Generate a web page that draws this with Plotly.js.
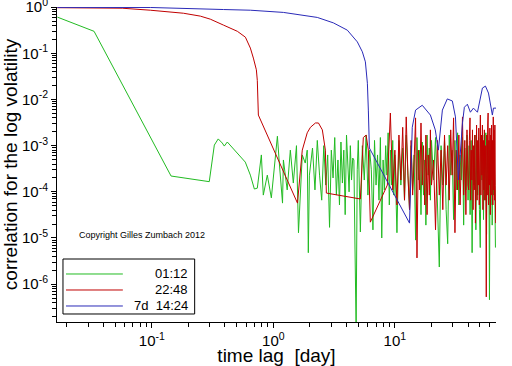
<!DOCTYPE html>
<html><head><meta charset="utf-8">
<script src="https://cdn.plot.ly/plotly-3.0.1.min.js"></script>
<style>html,body{margin:0;padding:0;background:#fff;}#chart{width:512px;height:366px;}</style>
</head><body><div id="chart"></div>
<script>
// ---- data ----
const seriesNames = ['01:12', '22:48', '7d\u00a0\u00a014:24'];
const seriesColors = ['#22bb22', '#c00000', '#2a2ab8'];

const greenLag = [
 0.0167, 0.0335, 0.144, 0.297, 0.327, 0.352, 0.38, 0.395, 0.418, 0.588, 0.647, 0.698, 0.738,
 0.797, 0.827, 0.892, 0.963, 1.02, 1.08, 1.12, 1.19, 1.21, 1.30, 1.38, 1.46, 1.55, 1.61, 1.73, 1.83, 1.90, 1.94, 1.98,
 2.1, 2.2, 2.3, 2.4, 2.5, 2.6, 2.7, 2.8, 2.9, 3.0, 3.1, 3.2, 3.3, 3.4, 3.5, 3.6, 3.7, 3.8, 3.9, 4.0,
 4.1, 4.2, 4.3, 4.4, 4.5, 4.6, 4.7, 4.8, 4.9, 5.0,
 5.2, 5.4, 5.6, 5.8, 6.0, 6.2, 6.4, 6.6, 6.8, 7.0, 7.2, 7.4, 7.6, 7.8, 8.0, 8.2, 8.4, 8.6, 8.8, 9.0,
 9.2, 9.4, 9.6, 9.8, 10.0,
 10.4, 10.8, 11.2, 11.6, 12.0, 12.4, 12.8, 13.2, 13.6, 14.0, 14.4, 14.8, 15.2, 15.6, 16.0, 16.4, 16.8,
 17.2, 17.6, 18.0, 18.4, 18.8, 19.2, 19.6, 20.0,
 20.8, 21.6, 22.4, 23.2, 24.0, 24.8, 25.6, 26.4, 27.2, 28.0, 28.8, 29.6, 30.4, 31.2, 32.0, 32.8, 33.6,
 34.4, 35.2, 36.0, 36.8, 37.6, 38.4, 39.2, 40.0, 40.8, 41.6, 42.4, 43.2, 44.0, 44.8, 45.6, 46.4, 47.2,
 48.0, 48.8, 49.6, 50.4, 51.2, 52.0, 52.8, 53.6, 54.4, 55.2, 56.0, 56.8, 57.6, 58.4, 59.2, 60.0, 60.8,
 61.6, 62.4, 63.2, 64.0, 64.8, 65.6, 66.4, 67.2
];
const greenCorr = [
 0.61, 0.30, 2.2e-4, 1.66e-4, 1.03e-3, 1.4e-3, 1.14e-3, 9.8e-4, 1.2e-3, 4.4e-4, 2.3e-4, 1.15e-4, 1.2e-4,
 6.3e-4, 8.5e-5, 2.3e-4, 7.4e-5, 3.8e-4, 1.6e-3, 4.2e-4, 5.7e-5, 4.9e-4, 1.1e-4, 8e-4, 1.55e-4, 1.0e-3, 1.3e-5, 6.3e-4, 4.2e-4, 8e-4, 4.8e-6, 2.3e-4,
 8.9e-4, 1.1e-4, 1.3e-3, 2.3e-4, 6.6e-5, 1.0e-3, 1.4e-4, 6.3e-4, 1.7e-5, 8e-4, 2.0e-4, 1.5e-3, 8.5e-5, 4.9e-4, 5.2e-5, 1.2e-3, 1.55e-4, 8e-4, 3.2e-5, 1.7e-3,
 3.0e-4, 1.0e-4, 1.0e-3, 1.8e-4, 5.4e-4, 4.9e-4, 5.5e-6, 1e-7, 3.0e-4, 1.3e-3,
 1.35e-5, 1.0e-3, 1.8e-4, 1.7e-3, 8.5e-5, 8e-4, 3.0e-4, 1.5e-5, 1.3e-3, 1.4e-4, 6.3e-4, 6.6e-5, 1.5e-3, 1.0e-5, 4.9e-4, 1.1e-4, 1.0e-3, 2.3e-4, 1.9e-3, 5.2e-5,
 8e-4, 1.4e-4, 1.3e-3, 8.5e-5, 6.3e-4,
 1.3e-5, 1.3e-3, 1.4e-4, 8.9e-4, 6.6e-5, 1.7e-3, 3.0e-4, 4.1e-5, 1.0e-3, 1.1e-4, 6.3e-4, 9e-6, 1.5e-3, 1.8e-4, 8e-4, 3.2e-5, 1.2e-3,
 8.5e-5, 4.9e-4, 1.9e-5, 1.7e-3, 2.3e-4, 8.9e-4, 6.6e-5, 1.3e-3,
 1.8e-4, 1.5e-3, 8.5e-5, 2.35e-6, 1.0e-3, 1.4e-4, 1.3e-3, 4.1e-5, 7.5e-6, 1.7e-3, 2.3e-4, 8e-4, 2.5e-5, 1.3e-3, 1.1e-4, 1.9e-3, 5.2e-5,
 6.3e-4, 1.8e-4, 1.5e-3, 1.9e-5, 8.9e-4, 1.1e-4, 1.7e-3, 6.6e-5, 1.0e-3, 3.2e-5, 1.3e-3, 4.8e-6, 8e-4, 1.4e-4, 1.7e-3, 1.5e-5, 1.1e-3,
 8.5e-5, 1.5e-3, 4.1e-5, 6.2e-6, 1.3e-3, 1.8e-4, 1.7e-3, 2.5e-5, 8.9e-4, 6.6e-5, 1.9e-3, 1.2e-5, 1.0e-3, 1.1e-4, 1.3e-3, 4.6e-7, 8e-4,
 5.2e-5, 1.5e-3, 1.9e-5, 1.0e-3, 8.5e-5, 1.3e-3, 3.2e-5, 6.2e-6
];

const redLag = [
 0.0167, 0.0571, 0.0972, 0.182, 0.251, 0.303, 0.388, 0.506, 0.589, 0.647, 0.685, 0.725, 0.738, 0.753,
 1.58, 1.73, 1.90, 2.02, 2.22, 2.35, 2.53, 2.68, 2.73, 5.2, 5.5, 5.8, 6.05, 6.28, 8.67, 9.18,
 9.6, 10.0, 10.4, 10.8, 11.2, 11.6, 12.0, 12.4, 12.8, 13.2, 13.6, 14.0, 14.4, 14.8, 15.2, 15.6, 16.0,
 16.4, 16.8, 17.2, 17.6, 18.0, 18.4, 18.8, 19.2, 19.6, 20.0,
 20.8, 21.6, 22.4, 23.2, 24.0, 24.8, 25.6, 26.4, 27.2, 28.0, 28.8, 29.6, 30.4, 31.2, 32.0, 32.8, 33.6,
 34.4, 35.2, 36.0, 36.8, 37.6, 38.4, 39.2, 40.0,
 40.5, 41.0, 41.5, 42.0, 42.5, 43.0, 43.5, 44.0, 44.5, 45.0, 45.5, 46.0, 46.5, 47.0, 47.5, 48.0, 48.5,
 49.0, 49.5, 50.0, 50.5, 51.0, 51.5, 52.0, 52.5, 53.0, 53.5, 54.0, 54.5, 55.0, 55.5, 56.0, 56.5, 57.0,
 57.5, 58.0, 58.5, 59.0, 59.5, 60.0, 60.5, 61.0, 61.5, 62.0, 62.5, 63.0, 63.5, 64.0, 64.5, 65.0, 65.5,
 66.0, 66.5, 67.0, 67.5
];
const redCorr = [
 0.975, 0.95, 0.86, 0.74, 0.64, 0.55, 0.41, 0.30, 0.224, 0.13, 0.079, 0.044, 0.026, 4.6e-3,
 5.7e-5, 8e-4, 1.9e-3, 2.5e-3, 3.1e-3, 3.1e-3, 2.2e-3, 8e-4, 9.4e-5, 7e-5, 1.5e-3, 1.7e-3, 8e-4, 2.2e-5, 1.4e-4, 5.1e-3,
 1.1e-4, 8e-4, 5.2e-5, 1.7e-3, 1.8e-4, 2.5e-3, 6.6e-5, 4.2e-3, 2.3e-4, 4.1e-5, 1.3e-3, 8.5e-5, 4.9e-4, 4.0e-3, 3.7e-6, 8e-4, 1.1e-4,
 3.1e-3, 1.4e-4, 1.0e-3, 5.2e-5, 1.7e-3, 3.2e-5, 6.3e-4, 8.5e-5, 2.2e-3, 1.4e-4,
 4.9e-4, 1.5e-5, 1.3e-3, 8.5e-5, 8e-4, 4.1e-5, 1.7e-3, 1.4e-4, 1.0e-3, 6.6e-5, 2.2e-3, 2.3e-4, 4.0e-3, 1.3e-5, 8e-4, 1.1e-4, 1.7e-3,
 5.2e-5, 1.0e-3, 4.2e-3, 8.5e-5, 1.3e-3, 3.2e-5, 2.2e-3, 1.4e-4,
 1.1e-4, 1.3e-3, 4.0e-3, 6.6e-5, 8e-4, 1.8e-4, 2.2e-3, 4.1e-5, 1.0e-3, 1.1e-4, 1.7e-3, 2.1e-5, 6.3e-4, 2.8e-3, 6.6e-5, 1.3e-3, 1.4e-4,
 2.4e-3, 5.2e-5, 8e-4, 4.6e-3, 8.5e-5, 1.7e-3, 2.3e-4, 2.8e-3, 4.1e-5, 1.3e-3, 1.1e-4, 2.2e-3, 6.6e-5, 1.0e-3, 1.8e-4, 5.3e-7, 1.7e-3,
 8.5e-5, 2.8e-3, 5.1e-3, 5.2e-5, 1.3e-3, 1.4e-4, 2.4e-3, 3.2e-5, 1.7e-3, 8.5e-5, 2.8e-3, 1.8e-4, 1.3e-3, 5.2e-5, 4.2e-3, 1.1e-4, 2.2e-3,
 6.6e-5, 2.8e-3, 1.4e-4, 2.1e-5
];

const blueLag = [
 0.0167, 0.0972, 0.388, 0.647, 1.21, 2.30, 3.12, 4.06, 4.91, 5.40, 5.72, 5.94, 6.05, 6.17,
 13.2, 13.9, 14.8, 16.8, 19.6, 21.5, 22.8, 24.6, 27.0, 29.7, 31.5, 33.3, 36.0, 37.3, 39.5, 41.8,
 44.3, 47.8, 52.5, 55.6, 58.9, 63.4, 64.7, 68.4
];
const blueCorr = [
 0.99, 0.985, 0.89, 0.86, 0.77, 0.60, 0.457, 0.318, 0.177, 0.108, 0.0655, 0.0225, 5.9e-3, 8.9e-4,
 2.1e-5, 2.5e-3, 5.9e-3, 7.5e-3, 4.6e-3, 2.2e-3, 8e-4, 5.9e-3, 0.0103, 9.3e-3, 4.2e-3, 1.8e-4, 3.1e-3, 6.8e-3, 7.9e-3, 5.3e-3,
 6.5e-3, 5.3e-3, 0.0177, 0.0195, 0.0138, 4.6e-3, 6.5e-3, 6.5e-3
];

const xTickVals = [0.1, 1, 10];
const xTickText = ['10<sup>-1</sup>', '10<sup>0</sup>', '10<sup>1</sup>'];
const yTickVals = [1, 0.1, 0.01, 0.001, 1e-4, 1e-5, 1e-6];
const yTickText = ['10<sup>0</sup>', '10<sup>-1</sup>', '10<sup>-2</sup>', '10<sup>-3</sup>', '10<sup>-4</sup>', '10<sup>-5</sup>', '10<sup>-6</sup>'];
const copyrightText = 'Copyright Gilles Zumbach 2012';

// ---- minor tick positions (2..9 per decade) ----
function minorVals(lo, hi) {
  const v = [];
  for (let e = lo; e <= hi; e++) for (let m = 2; m <= 9; m++) v.push(m * Math.pow(10, e));
  return v;
}

const FONT = 'Liberation Sans, Arial, Helvetica, sans-serif';
const traces = [
  {x: greenLag, y: greenCorr, name: seriesNames[0], line: {color: seriesColors[0]}},
  {x: redLag, y: redCorr, name: seriesNames[1], line: {color: seriesColors[1]}},
  {x: blueLag, y: blueCorr, name: seriesNames[2], line: {color: seriesColors[2]}}
].map(t => Object.assign(t, {type: 'scatter', mode: 'lines', line: Object.assign(t.line, {width: 1}), hoverinfo: 'skip'}));

// legend drawn as a box with lines and right-aligned labels
const legY = [0.1524, 0.1016, 0.0508];
const shapes = [{type: 'rect', xref: 'paper', yref: 'paper', x0: 0.0136, x1: 0.3136, y0: 0.0254, y1: 0.2,
  line: {color: '#000', width: 1}, fillcolor: '#fff', layer: 'above'}];
const annotations = [{xref: 'paper', yref: 'paper', x: 0.045, y: 0.276, xanchor: 'left', yanchor: 'middle',
  text: copyrightText, showarrow: false, font: {family: FONT, size: 9, color: '#000'}}];
seriesNames.forEach((n, i) => {
  shapes.push({type: 'line', xref: 'paper', yref: 'paper', x0: 0.0205, x1: 0.15, y0: legY[i], y1: legY[i],
    line: {color: seriesColors[i], width: 1}, layer: 'above'});
  annotations.push({xref: 'paper', yref: 'paper', x: 0.3023, y: legY[i], xanchor: 'right', yanchor: 'middle',
    text: n, showarrow: false, font: {family: FONT, size: 13, color: '#000'}});
});

const axisCommon = {
  type: 'log', tickmode: 'array', ticks: 'outside', ticklen: 5, tickwidth: 1, tickcolor: '#000',
  showline: true, linecolor: '#000', linewidth: 1, showgrid: false, zeroline: false,
  ticklabeloverflow: 'allow',
  tickfont: {family: FONT, size: 15, color: '#000'}
};

const layout = {
  width: 512, height: 366,
  margin: {l: 57, r: 16, t: 7, b: 44},
  paper_bgcolor: '#fff', plot_bgcolor: '#fff',
  showlegend: false,
  font: {family: FONT, color: '#000'},
  xaxis: Object.assign({}, axisCommon, {
    range: [-1.78, 1.832], tickvals: xTickVals, ticktext: xTickText,
    minor: {tickmode: 'array', tickvals: minorVals(-2, 1), ticks: 'outside', ticklen: 4, tickcolor: '#000', showgrid: false},
    title: {text: 'time lag\u00a0 [day]', font: {family: FONT, size: 19, color: '#000'}, standoff: 5}
  }),
  yaxis: Object.assign({}, axisCommon, {
    range: [-6.82, 0.004], tickvals: yTickVals, ticktext: yTickText,
    minor: {tickmode: 'array', tickvals: minorVals(-7, -1), ticks: 'outside', ticklen: 4, tickcolor: '#000', showgrid: false},
    title: {text: 'correlation for the log volatility', font: {family: FONT, size: 19, color: '#000'}, standoff: 2}
  }),
  shapes: shapes,
  annotations: annotations
};

Plotly.newPlot('chart', traces, layout, {displayModeBar: false, staticPlot: true});
</script>
</body></html>
